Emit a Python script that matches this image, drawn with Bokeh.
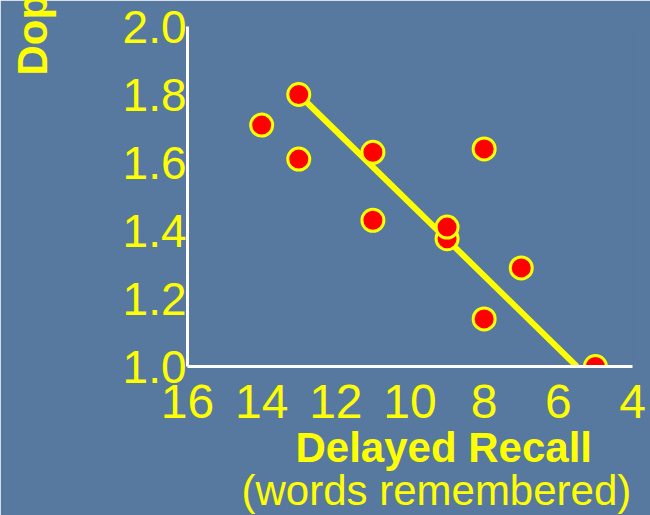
import math
from bokeh.plotting import figure
from bokeh.models import Range1d, FixedTicker, Label
from bokeh.embed import file_html
from bokeh.resources import INLINE

# ---- data ----
recall = [13, 14, 13, 11, 8, 11, 9, 9, 7, 8, 5]
dopamine = [1.80, 1.71, 1.61, 1.63, 1.64, 1.43, 1.376, 1.41, 1.29, 1.14, 1.00]
fit_x = [13, 5.5]
fit_y = [1.80, 1.00]
x_ticks = [16, 14, 12, 10, 8, 6, 4]
x_tick_labels = ["16", "14", "12", "10", "8", "6", "4"]
y_ticks = [1.0, 1.2, 1.4, 1.6, 1.8, 2.0]
y_tick_labels = ["1.0", "1.2", "1.4", "1.6", "1.8", "2.0"]
x_title = "Delayed Recall"
x_subtitle = "(words remembered)"
y_title = "Dop"

BG = "#57789f"
YEL = "#ffff00"
FONT = "Liberation Sans"

p = figure(width=650, height=515,
           x_range=Range1d(x_ticks[0], x_ticks[-1]),
           y_range=Range1d(y_ticks[0], y_ticks[-1]),
           output_backend="svg", toolbar_location=None,
           min_border_left=187, min_border_right=18,
           min_border_top=26, min_border_bottom=149)
p.background_fill_color = BG
p.border_fill_color = BG
p.outline_line_color = BG
p.outline_line_width = 2
p.grid.visible = False

xa = p.xaxis[0]
ya = p.yaxis[0]
xa.ticker = FixedTicker(ticks=x_ticks)
ya.ticker = FixedTicker(ticks=y_ticks)
xa.major_label_overrides = {t: l for t, l in zip(x_ticks, x_tick_labels)}
ya.major_label_overrides = {t: l for t, l in zip(y_ticks, y_tick_labels)}
for ax, fs, so in ((xa, "48px", 18), (ya, "46px", 1)):
    ax.axis_line_color = "white"
    ax.axis_line_width = 3
    ax.major_tick_line_color = None
    ax.minor_tick_line_color = None
    ax.major_tick_out = 0
    ax.major_tick_in = 0
    ax.minor_tick_out = 0
    ax.major_label_text_color = YEL
    ax.major_label_text_font = FONT
    ax.major_label_text_font_size = fs
    ax.major_label_standoff = so

p.line(fit_x, fit_y, line_color=YEL, line_width=6)
p.scatter(recall, dopamine, size=22, fill_color="#ff0000",
          line_color=YEL, line_width=3)

p.add_layout(Label(x=108, y=20, x_units="screen", y_units="screen",
                   text=x_title, text_align="left", text_baseline="alphabetic",
                   text_color=YEL, text_font=FONT,
                   text_font_size="42px", text_font_style="bold"), "below")
p.add_layout(Label(x=54, y=24, x_units="screen", y_units="screen",
                   text=x_subtitle, text_align="left", text_baseline="alphabetic",
                   text_color=YEL, text_font=FONT,
                   text_font_size="42px"), "below")
p.add_layout(Label(x=-40, y=291, x_units="screen", y_units="screen",
                   text=y_title, angle=math.pi / 2, text_align="left",
                   text_baseline="alphabetic",
                   text_color=YEL, text_font=FONT,
                   text_font_size="42px", text_font_style="bold"), "left")

open("out.html", "w").write(file_html(p, INLINE))
